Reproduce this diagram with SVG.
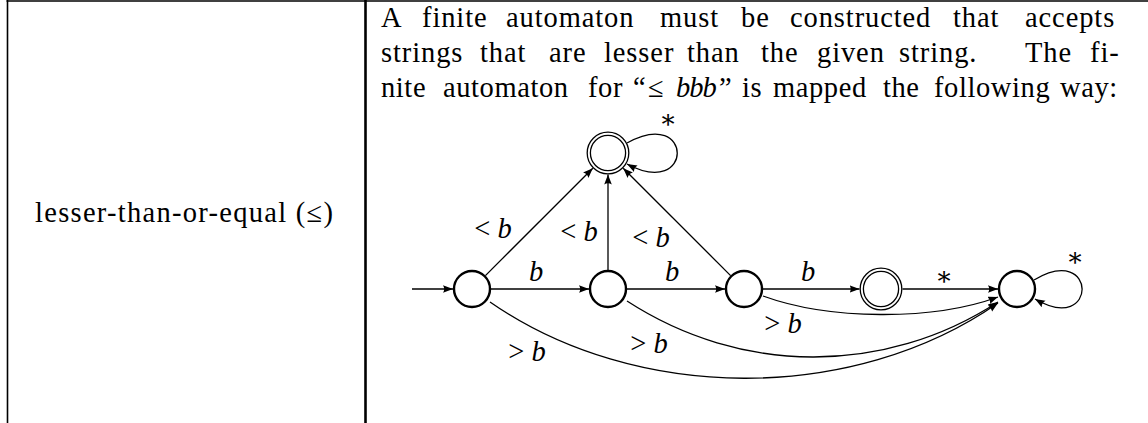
<svg xmlns="http://www.w3.org/2000/svg" width="1148" height="423" viewBox="0 0 1148 423">
<defs>
<style>
.t{font-family:"Liberation Serif","Times New Roman",serif;font-size:28.5px;fill:#000}
.p{letter-spacing:0.9px}
.p3{letter-spacing:0.6px}
.i{font-style:italic}
.lbl{font-family:"Liberation Serif","DejaVu Serif",serif;font-size:28.5px;fill:#000;text-anchor:middle}
.ast{font-family:"DejaVu Serif","Liberation Serif",serif;font-size:26px;fill:#000;text-anchor:middle}
.node{fill:#fff;stroke:#000;stroke-width:2.4}
.acc{fill:none;stroke:#000;stroke-width:1.3}
.edge{fill:none;stroke:#000;stroke-width:1.3;marker-end:url(#ah)}
.rule{stroke:#000;fill:none}
</style>
<marker id="ah" markerWidth="12" markerHeight="9" refX="10" refY="4" orient="auto" markerUnits="userSpaceOnUse">
<path d="M0,0.2 L10,4 L0,7.8 Q2.4,4 0,0.2 z" fill="#000"/>
</marker>
</defs>
<rect width="1148" height="423" fill="#fff"/>
<g id="table">
<line class="rule" x1="6.5" y1="1" x2="1148" y2="1" stroke-width="1.6"/>
<line class="rule" x1="7.5" y1="0" x2="7.5" y2="423" stroke-width="1.6"/>
<line class="rule" x1="365.5" y1="0" x2="365.5" y2="423" stroke-width="2.6"/>
</g>
<g id="cell-operator">
<text class="t" x="35" y="222" textLength="298">lesser-than-or-equal (≤)</text>
</g>
<g id="cell-description">
<text class="t p" y="27"><tspan x="381">A</tspan><tspan x="422">finite</tspan><tspan x="506">automaton</tspan><tspan x="660">must</tspan><tspan x="741">be</tspan><tspan x="790">constructed</tspan><tspan x="953">that</tspan><tspan x="1025">accepts</tspan></text>
<text class="t p" y="62"><tspan x="381">strings</tspan><tspan x="480">that</tspan><tspan x="549">are</tspan><tspan x="604">lesser</tspan><tspan x="687">than</tspan><tspan x="761">the</tspan><tspan x="817">given</tspan><tspan x="899">string.</tspan><tspan x="1025">The</tspan><tspan x="1090">fi-</tspan></text>
<text class="t p3" y="97"><tspan x="381">nite</tspan><tspan x="443">automaton</tspan><tspan x="588">for</tspan><tspan x="633">“</tspan><tspan x="648">≤</tspan><tspan x="676" class="i" style="letter-spacing:-1px">bbb</tspan><tspan x="719">”</tspan><tspan x="742">is</tspan><tspan x="773">mapped</tspan><tspan x="883">the</tspan><tspan x="934">following</tspan><tspan x="1060">way:</tspan></text>
</g>
<g id="connectors">
<path class="edge" d="M412,289 L453,289"/>
<path class="edge" d="M491,289 L589,289"/>
<path class="edge" d="M627,289 L725,289"/>
<path class="edge" d="M763,289 L859.5,289"/>
<path class="edge" d="M902.5,289 L998,289"/>
<path class="edge" d="M485.4,275.6 L592.8,168.2"/>
<path class="edge" d="M608,270 L608,174.5"/>
<path class="edge" d="M730.6,275.6 L623.2,168.2"/>
<path class="edge" d="M627,143 C694,106 694,200 627,164"/>
<path class="edge" d="M1034,280 C1098,242 1098,336 1035,299"/>
<path class="edge" d="M763,296 C829,320 932,321 998,297"/>
<path class="edge" d="M627,301 C741,375 884,376 998,302"/>
<path class="edge" d="M490,302 C635,403 853,404 998,303"/>
<text class="lbl" x="536" y="281"><tspan class="i">b</tspan></text>
<text class="lbl" x="672" y="281"><tspan class="i">b</tspan></text>
<text class="lbl" x="808" y="281"><tspan class="i">b</tspan></text>
<text class="ast" x="944" y="285">∗</text>
<text class="ast" x="668" y="128">∗</text>
<text class="ast" x="1075" y="266">∗</text>
<text class="lbl" x="493" y="238">&lt;<tspan dx="7" class="i">b</tspan></text>
<text class="lbl" x="579" y="241">&lt;<tspan dx="7" class="i">b</tspan></text>
<text class="lbl" x="651" y="247">&lt;<tspan dx="7" class="i">b</tspan></text>
<text class="lbl" x="783" y="333">&gt;<tspan dx="7" class="i">b</tspan></text>
<text class="lbl" x="649" y="353">&gt;<tspan dx="7" class="i">b</tspan></text>
<text class="lbl" x="527" y="361">&gt;<tspan dx="7" class="i">b</tspan></text>
</g>
<g id="q0"><circle class="node" cx="472" cy="289" r="18"/></g>
<g id="q1"><circle class="node" cx="608" cy="289" r="18"/></g>
<g id="q2"><circle class="node" cx="744" cy="289" r="18"/></g>
<g id="q3"><circle class="acc" cx="881" cy="289" r="20.8"/><circle class="acc" cx="881" cy="289" r="17.6"/></g>
<g id="q4"><circle class="node" cx="1017" cy="289" r="18"/></g>
<g id="qlt"><circle class="acc" cx="608" cy="153" r="20.8"/><circle class="acc" cx="608" cy="153" r="17.6"/></g>
</svg>
